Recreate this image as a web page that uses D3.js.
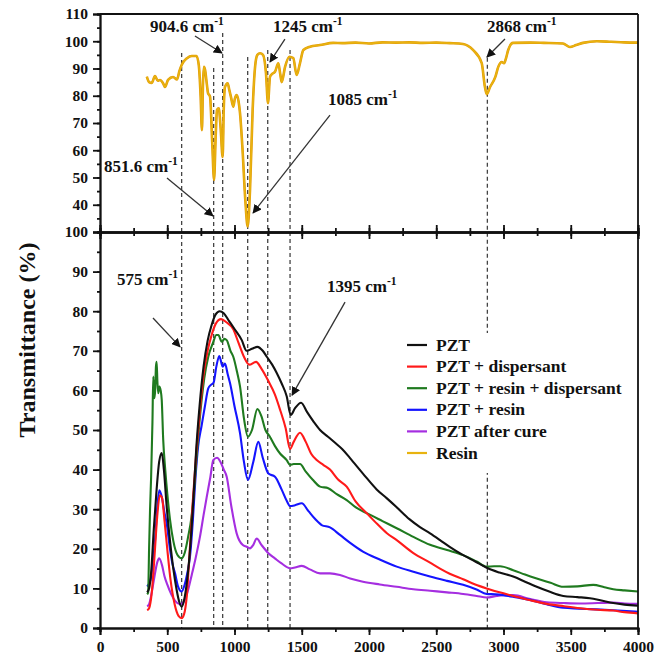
<!DOCTYPE html>
<html><head><meta charset="utf-8">
<script src="https://cdn.jsdelivr.net/npm/d3@7/dist/d3.min.js"></script>
<style>body{margin:0;background:#fff}svg{display:block}</style>
</head><body><svg id="c" width="669" height="662"></svg>
<script>
// ---------- data ----------
const seriesNames = ["PZT","PZT + dispersant","PZT + resin + dispersant","PZT + resin","PZT after cure","Resin"];
const seriesColors = ["#111111","#ff1a1a","#1f7a1f","#1414ff","#a52ee0","#e8b30f"];

const resin = [[348,87],[365,85],[384,84.7],[409,87.2],[430,85.5],[446,85.8],[470,84.5],[483,83.2],[506,85.8],[543,86.9],[573,86],[590,89],[607,91.3],[647,93.8],[683,94.6],[718,94.6],[735,91],[748,80],[758,67.4],[766,85],[773,90.6],[781,89.5],[795,84],[803,81],[818,79.7],[835,62],[848,49.1],[860,65],[870,74.8],[883,75.4],[897,68],[912,57.5],[920,75],[929,83.2],[949,84.6],[962,82],[974,79.5],[991,76],[1003,79],[1016,80.3],[1030,78],[1041,73.6],[1060,60],[1080,42],[1098,32],[1115,45],[1135,75],[1153,90.6],[1170,95],[1190,95.6],[1212,95],[1234,88.3],[1249,77.3],[1264,87],[1280,88],[1301,88.8],[1326,91.9],[1340,88],[1351,85],[1376,90.6],[1408,94.3],[1437,93.8],[1462,87.6],[1487,92],[1512,96.8],[1561,98],[1636,98.6],[1734,99.4],[1800,99.3],[1900,99.5],[2000,99.2],[2100,99.6],[2200,99.5],[2300,99.6],[2400,99.4],[2500,99.5],[2600,99.3],[2699,99],[2773,96.8],[2838,92],[2862,83.2],[2875,80.6],[2900,83.2],[2940,87],[2961,90.6],[2987,92.4],[3004,91.9],[3020,94],[3035,96.8],[3071,99.4],[3200,99.5],[3300,99.4],[3442,99.2],[3494,97.9],[3540,98.6],[3591,99.4],[3695,100],[3800,99.8],[3900,99.6],[4000,99.5]];

const pzt = [[350,9],[365,10],[380,14],[400,25],[421,35],[440,42],[459,44.2],[475,40],[495,31],[520,22.2],[545,15],[570,9.6],[590,6.5],[607,5.4],[625,7],[644,11],[665,18],[690,30],[715,45],[740,56],[770,66],[800,72.5],[830,76.5],[860,79.2],[890,80],[920,79.5],[960,77.5],[1000,75.5],[1054,72.7],[1090,70],[1130,70.5],[1170,71],[1210,70],[1240,68.5],[1280,66.5],[1314,64.4],[1350,61.8],[1388,58.5],[1418,53.8],[1450,55.5],[1495,56.9],[1540,54.5],[1590,52],[1636,50],[1695,48.3],[1750,46.7],[1800,45.2],[1859,42.9],[1955,39],[2057,35],[2131,32.8],[2206,30.5],[2300,27.5],[2379,25.5],[2454,23.9],[2528,22.2],[2600,20.5],[2700,18.4],[2790,16.8],[2875,15.2],[2970,14],[3072,13],[3160,11.7],[3247,10.4],[3340,9.2],[3444,8.1],[3550,7.8],[3643,7.5],[3720,7],[3816,6.3],[3900,5.9],[4000,5.6]];

const pztDisp = [[350,4.5],[365,5],[385,9],[405,18],[425,28],[445,33.5],[460,33],[480,27],[500,20],[525,12],[555,6],[585,3],[607,2.5],[625,3.5],[645,8],[668,20],[690,32],[715,44],[740,54],[770,64],[800,70],[830,74],[860,76.8],[900,78],[940,77.2],[990,75.5],[1030,72],[1070,68.5],[1110,66.5],[1160,67.2],[1200,65.5],[1250,62.5],[1300,59],[1340,55],[1380,50.5],[1413,45.2],[1440,47],[1487,49.3],[1530,47],[1570,44],[1611,42.4],[1660,41.2],[1710,40],[1770,37.5],[1834,35.7],[1900,32],[1983,29],[2060,26.3],[2131,24],[2206,22.2],[2330,18.9],[2454,16.5],[2528,15],[2600,13.7],[2700,12.3],[2790,11],[2875,10],[2970,9],[3072,8.1],[3200,7],[3321,6.1],[3450,5.5],[3569,5],[3700,4.6],[3816,4.4],[3900,4],[4000,3.7]];

const pztResinDisp = [[350,8.5],[358,9],[365,20],[372,29.8],[380,38],[390,52],[396,63.5],[404,58],[410,60],[416,66],[421,67.2],[427,62],[433,59.3],[441,61],[451,60],[459,57.6],[470,47.5],[485,40],[500,34],[520,27.5],[545,22],[575,18.5],[607,17.6],[630,19],[655,23],[680,28],[700,35],[720,44],[745,54],[775,63],[805,68.5],[840,72],[865,74],[880,74],[905,72.3],[925,73],[942,72.7],[970,70],[991,68.5],[1020,64.5],[1041,61],[1070,53],[1100,48.3],[1130,50],[1170,55.3],[1200,53.5],[1230,50],[1260,48.5],[1300,46],[1340,44],[1388,42.4],[1413,41.2],[1440,41.4],[1487,41.4],[1530,39.5],[1580,37.5],[1636,35.7],[1697,35.3],[1760,33.8],[1834,32.3],[1900,30.5],[1983,29],[2100,27],[2206,25.2],[2330,23],[2454,21],[2580,19.7],[2700,18.4],[2800,16.8],[2875,15.5],[2930,15.6],[2974,15.6],[3072,14.6],[3160,13.5],[3247,12.5],[3350,11.4],[3444,10.4],[3550,10.5],[3667,10.9],[3750,10.3],[3816,9.8],[3900,9.5],[4000,9.2]];

const pztResin = [[350,10.5],[375,12],[395,17],[409,22],[425,30],[441,34.8],[460,33],[480,29],[496,26.4],[520,20],[540,16],[558,13.8],[580,10.5],[607,9.2],[630,11],[650,14],[669,18],[690,27],[710,38],[730,46],[755,51],[780,56],[805,60.5],[825,61.4],[845,62],[865,66],[887,68.7],[912,66],[929,66.8],[950,64],[967,61.8],[1000,56],[1041,49.2],[1070,42],[1100,37.4],[1140,42],[1177,47],[1210,43],[1252,39],[1301,38.2],[1350,35],[1390,32],[1413,30.8],[1450,31],[1500,31.5],[1550,29.5],[1600,27.5],[1648,26],[1710,25.4],[1784,23.5],[1860,21.5],[1955,19.3],[2080,17.3],[2206,15.5],[2330,14.2],[2454,13],[2580,11.9],[2700,10.9],[2800,9.7],[2875,8.6],[2940,8.5],[2998,8.3],[3100,7.7],[3197,7.1],[3320,6],[3444,5.1],[3560,4.9],[3693,4.7],[3850,4.4],[4000,4.1]];

const pztCure = [[350,5.5],[365,6],[385,9],[405,13],[425,16.5],[440,17.6],[460,16],[480,13],[500,11],[530,8.5],[560,6.8],[595,6],[620,6.5],[650,9],[682,13.4],[710,17.5],[743,23],[770,28.5],[793,33],[820,38],[842,42.4],[870,43],[895,42],[920,40],[942,38.2],[975,31],[1016,23.9],[1060,21],[1091,20.5],[1115,20.1],[1140,21],[1165,22.6],[1200,21],[1252,18.9],[1300,17.6],[1350,16.3],[1413,15.1],[1450,15.3],[1500,15.7],[1560,14.8],[1636,13.8],[1710,13.8],[1784,13.4],[1860,12.5],[1955,11.7],[2080,11],[2206,10.4],[2330,9.8],[2454,9.4],[2580,9],[2700,8.6],[2800,8.1],[2875,7.7],[2950,8.1],[3000,8.3],[3072,8.3],[3200,7.3],[3321,6.5],[3450,6.3],[3569,6.2],[3700,6.3],[3816,6.4],[3900,6.2],[4000,6.1]];

const bottomSeries = [pztCure, pztResin, pztResinDisp, pztDisp, pzt];
const bottomColors = [seriesColors[4], seriesColors[3], seriesColors[2], seriesColors[1], seriesColors[0]];

// dashed marker lines: wavenumber positions and top (value in upper panel)
const dashX   = [607, 845, 912, 1098, 1247, 1413, 2880];
const dashTop = [95.7, 90.2, 103, 94.2, 96.8, 96.8, 93.9];

const xTicks = [0,500,1000,1500,2000,2500,3000,3500,4000];
const topYTicks = [40,50,60,70,80,90,100,110];
const botYTicks = [0,10,20,30,40,50,60,70,80,90,100];

// annotations: label, panel, text anchor (wn,val), arrow from (wn,val) to (wn,val)
const annLabels = ["904.6","1245","2868","1085","851.6","575","1395"];
const annPanel  = ["t","t","t","t","t","b","b"];
const annText   = [[372,103.4],[1286,103.4],[2877,103.4],[1695,76.6],[30,52],[126,86.6],[1688,84.8]];
const annFrom   = [[706,101.9],[1375,100.8],[3011,100.8],[1710,72.9],[498,49.8],[394,78.3],[1822,82.3]];
const annTo     = [[907,95.7],[1264,92.4],[2877,94.2],[1138,37],[840,35.9],[595,71],[1428,58.8]];

// ---------- drawing ----------
const FONT = "Liberation Serif";
const svg = d3.select("#c");
const x = d3.scaleLinear().domain([0,4000]).range([100,638]);
const yT = d3.scaleLinear().domain([30,110]).range([232,14]);
const yB = d3.scaleLinear().domain([0,100]).range([628,232]);

svg.append("defs").append("marker").attr("id","ah").attr("viewBox","0 0 10 10")
  .attr("refX",9).attr("refY",5).attr("markerWidth",9).attr("markerHeight",9)
  .attr("markerUnits","userSpaceOnUse").attr("orient","auto")
  .append("path").attr("d","M0,0L10,5L0,10z").attr("fill","#111");

// dashed lines
const g = svg.append("g");
dashX.forEach((d,i)=>{
  g.append("line").attr("x1",x(d)).attr("x2",x(d)).attr("y1",yT(dashTop[i])).attr("y2",yB(0))
   .attr("stroke","#444").attr("stroke-width",1.3).attr("stroke-dasharray","4,3");
});

// curves
const lineT = d3.line().x(d=>x(d[0])).y(d=>yT(d[1])).curve(d3.curveMonotoneX);
const lineB = d3.line().x(d=>x(d[0])).y(d=>yB(d[1])).curve(d3.curveMonotoneX);
svg.append("path").datum(resin).attr("d",lineT).attr("fill","none").attr("stroke","#e39a0a").attr("stroke-width",2.6);
svg.append("path").datum(resin).attr("d",lineT).attr("fill","none").attr("stroke",seriesColors[5]).attr("stroke-width",1.6);
bottomSeries.forEach((s,i)=>{
  svg.append("path").datum(s).attr("d",lineB).attr("fill","none").attr("stroke",bottomColors[i]).attr("stroke-width",2.1);
});

// axes
function styleAxis(sel){
  sel.attr("font-family",null).attr("font-size",null);
  sel.select(".domain").attr("stroke","#111").attr("stroke-width",1.8);
  sel.selectAll(".tick line").attr("stroke","#111").attr("stroke-width",1.8);
  sel.selectAll("text").attr("fill","#111").attr("font-family",FONT).attr("font-weight","bold").attr("font-size",15.5);
}
const fmt = d3.format("d");
// top panel
const topMinor = d3.range(35,111,5);
svg.append("g").attr("transform","translate(100,0)").call(d3.axisLeft(yT).tickValues(topMinor).tickSize(3).tickFormat("")).call(styleAxis);
svg.append("g").attr("transform","translate(100,0)").call(d3.axisLeft(yT).tickValues(topYTicks).tickSize(7).tickPadding(5).tickFormat(fmt)).call(styleAxis);
const xMinor = d3.range(0,4001,250);
svg.append("g").attr("transform","translate(0,232)").call(d3.axisBottom(x).tickValues(xMinor).tickSize(4).tickFormat("")).call(styleAxis);
svg.append("g").attr("transform","translate(0,232)").call(d3.axisTop(x).tickValues(xMinor).tickSize(4).tickFormat("")).call(styleAxis);
svg.append("g").attr("transform","translate(0,232)").call(d3.axisBottom(x).tickValues(xTicks).tickSize(7).tickFormat("")).call(styleAxis);
svg.append("g").attr("transform","translate(0,232)").call(d3.axisTop(x).tickValues(xTicks).tickSize(7).tickFormat("")).call(styleAxis);
// frame top panel
svg.append("line").attr("x1",x(0)).attr("x2",x(4000)).attr("y1",yT(110)).attr("y2",yT(110)).attr("stroke","#111").attr("stroke-width",1.8);
svg.append("line").attr("x1",x(4000)).attr("x2",x(4000)).attr("y1",yT(110)).attr("y2",yB(0)).attr("stroke","#111").attr("stroke-width",1.8);

// bottom panel
const botMinor = d3.range(0,101,5);
svg.append("g").attr("transform","translate(100,0)").call(d3.axisLeft(yB).tickValues(botMinor).tickSize(3).tickFormat("")).call(styleAxis);
svg.append("g").attr("transform","translate(100,0)").call(d3.axisLeft(yB).tickValues(botYTicks).tickSize(7).tickPadding(5).tickFormat(fmt)).call(styleAxis);
svg.append("g").attr("transform","translate(0,628)").call(d3.axisBottom(x).tickValues(xMinor).tickSize(4).tickFormat("")).call(styleAxis);
svg.append("g").attr("transform","translate(0,628)").call(d3.axisBottom(x).tickValues(xTicks).tickSize(7).tickPadding(6).tickFormat(fmt)).call(styleAxis);

// y title
svg.append("text").attr("transform","translate(35,340) rotate(-90)").attr("text-anchor","middle")
  .attr("font-family",FONT).attr("font-weight","bold")
  .attr("font-size",24).attr("fill","#111").text("Transmittance (%)");

// annotations
annLabels.forEach((lab,i)=>{
  const yy = annPanel[i]==="t" ? yT : yB;
  svg.append("line").attr("x1",x(annFrom[i][0])).attr("y1",yy(annFrom[i][1]))
    .attr("x2",x(annTo[i][0])).attr("y2",yy(annTo[i][1]))
    .attr("stroke","#333").attr("stroke-width",1.3).attr("marker-end","url(#ah)");
  const t = svg.append("text").attr("x",x(annText[i][0])).attr("y",yy(annText[i][1]))
    .attr("font-family",FONT).attr("font-weight","bold")
    .attr("font-size",17).attr("fill","#111");
  t.append("tspan").text(lab+" cm");
  t.append("tspan").attr("dy",-7).attr("font-size",11.5).text("-1");
});

// legend
const lg = svg.append("g");
lg.append("rect").attr("x",400).attr("y",333).attr("width",228).attr("height",140).attr("fill","#fff");
seriesNames.forEach((n,i)=>{
  const yy = 345 + i*21.6;
  lg.append("line").attr("x1",407).attr("x2",427).attr("y1",yy).attr("y2",yy)
    .attr("stroke",seriesColors[i]).attr("stroke-width",2.2);
  lg.append("text").attr("x",436).attr("y",yy+5.5).attr("font-family",FONT).attr("font-weight","bold")
    .attr("font-size",17.5).attr("fill","#111").text(n);
});
</script></body></html>
